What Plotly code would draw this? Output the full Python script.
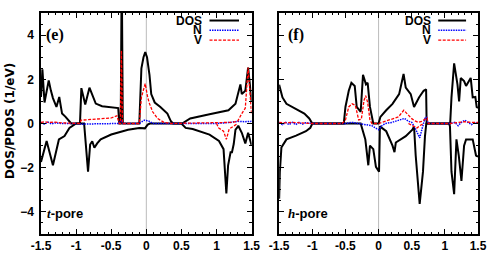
import plotly.graph_objects as go

# ---- panel (e): t-pore ----
e_dos_up_x = [-1.5, -1.48, -1.45, -1.42, -1.39, -1.36, -1.33, -1.28, -1.24, -1.2, -1.15, -1.07,
              -0.945, -0.925, -0.87, -0.81, -0.72, -0.63, -0.5, -0.4, -0.385, -0.365, -0.35, -0.335,
              -0.1, -0.07, -0.04, -0.015, 0.01, 0.045, 0.07, 0.12, 0.2, 0.3, 0.35, 0.38,
              0.51, 0.625, 0.9, 1.17, 1.27, 1.31, 1.34, 1.36, 1.41, 1.45, 1.49, 1.5]
e_dos_up_y = [1.2, 2.45, 0.95, 1.4, 1.95, 1.5, 1.15, 0.75, 1.2, 0.45, 0.3, 0.0,
              0.0, 1.6, 0.86, 1.62, 0.9, 0.78, 0.74, 0.7, 0.0, 0.0, 7.0, 0.0,
              0.0, 2.5, 3.0, 3.23, 3.0, 2.2, 1.33, 0.95, 0.75, 0.45, 0.1, 0.0,
              0.0, 0.23, 0.42, 0.6, 0.89, 1.33, 1.77, 1.33, 1.48, 2.53, 1.48, 1.0]

e_dos_dn_x = [-1.5, -1.42, -1.33, -1.245, -1.165, -1.095, -1.0, -0.886, -0.83, -0.8, -0.77,
              -0.74, -0.7, -0.65, -0.5, -0.26, -0.1, -0.02, 0.02, 0.05, 0.5, 0.56, 0.66, 0.9,
              1.035, 1.1, 1.14, 1.165, 1.2, 1.22, 1.245, 1.27, 1.29, 1.31, 1.36, 1.41, 1.45,
              1.49, 1.5]
e_dos_dn_y = [-1.74, -0.79, -1.89, -0.72, -0.57, -0.2, 0.0, 0.0, -2.18, -0.95, -0.8,
              -1.1, -0.9, -0.72, -0.5, -0.28, -0.2, -0.22, -0.05, 0.0, 0.0, -0.2, -0.25, -0.5,
              -0.79, -1.16, -3.17, -1.89, -1.3, -1.3, -0.93, -0.28, -0.2, -0.1, -0.42, -0.9, -0.42,
              -0.86, -1.0]

e_n_x = [-1.5, -1.45, -1.4, -1.35, -1.3, -1.2, -1.0, -0.9, -0.8, -0.4, -0.36, -0.33, -0.3,
         -0.1, -0.03, 0.03, 0.1, 0.5, 1.0, 1.2, 1.3, 1.4, 1.5]
e_n_y = [0.05, -0.03, 0.06, -0.02, 0.03, 0.0, 0.0, -0.03, -0.02, 0.0, 0.12, 0.0, 0.0,
         0.0, 0.15, 0.12, 0.0, 0.0, 0.0, 0.05, 0.1, 0.08, 0.1]

e_v_up_x = [-1.5, -1.45, -1.4, -1.3, -1.2, -1.1, -1.0, -0.95, -0.93, -0.8, -0.65, -0.5, -0.42,
            -0.385, -0.37, -0.355, -0.34, -0.1, -0.07, -0.04, -0.016, 0.02, 0.045, 0.09, 0.16,
            0.25, 0.35, 1.2, 1.3, 1.36, 1.41, 1.45, 1.48, 1.5]
e_v_up_y = [0.05, 0.08, 0.05, 0.06, 0.03, 0.02, 0.0, 0.0, 0.15, 0.18, 0.22, 0.25, 0.35,
            0.0, 0.0, 3.3, 0.0, 0.0, 1.18, 1.55, 1.8, 1.18, 0.9, 0.53, 0.23,
            0.05, 0.0, 0.05, 0.1, 0.45, 0.7, 2.53, 1.04, 0.4]
e_v_dn_x = [1.0, 1.03, 1.1, 1.14, 1.18, 1.245, 1.3]
e_v_dn_y = [0.0, -0.2, -0.35, -0.72, -0.25, -0.1, 0.0]

# ---- panel (f): h-pore ----
f_dos_up_x = [-1.5, -1.45, -1.39, -1.245, -1.12, -1.046, -1.0, -0.525, -0.5, -0.45, -0.41,
              -0.36, -0.33, -0.27, -0.235, -0.19, -0.165, -0.13, -0.08, 0.0, 0.027, 0.115,
              0.21, 0.31, 0.377, 0.41, 0.485, 0.535, 0.61, 0.68, 0.717, 0.725, 1.08, 1.1,
              1.14, 1.19, 1.215, 1.24, 1.29, 1.32, 1.39, 1.42, 1.46, 1.48, 1.5]
f_dos_up_y = [1.75, 1.18, 0.89, 0.67, 0.45, 0.23, 0.0, 0.0, 0.75, 1.48, 1.84,
              1.7, 0.75, 0.53, 2.2, 1.77, 1.84, 0.75, 0.0, 0.0, 0.3, 0.6,
              0.89, 1.33, 2.24, 1.62, 1.33, 0.75, 1.18, 1.48, 1.55, 0.0, 0.0, 1.18,
              2.72, 1.77, 1.0, 2.06, 1.92, 1.7, 2.06, 1.18, 1.2, 0.75, 0.7]

f_dos_dn_x = [-1.5, -1.49, -1.466, -1.39, -1.245, -1.096, -1.03, -1.0, -0.27, -0.25, -0.2,
              -0.155, -0.13, -0.08, -0.04, 0.007, 0.02, 0.115, 0.21, 0.24, 0.26, 0.41, 0.51,
              0.535, 0.56, 0.62, 0.67, 0.7, 0.72, 1.065, 1.077, 1.1, 1.14, 1.175, 1.21, 1.25,
              1.29, 1.32, 1.42, 1.47, 1.5]
f_dos_dn_y = [-3.4, -2.2, -1.08, -0.72, -0.55, -0.35, -0.2, 0.0, 0.0, -0.2, -0.72,
              -1.89, -1.0, -1.16, -1.96, -2.18, -0.13, -0.35, -1.0, -1.3, -0.86, -0.57, -0.28,
              -0.13, -1.45, -3.64, -2.18, -0.57, 0.0, 0.0, -0.13, -2.18, -3.2, -0.72, -1.45, -2.6,
              -1.0, -0.72, -0.72, -1.45, -1.5]

f_n_x = [-1.5, -1.45, -1.4, -1.35, -1.3, -1.25, -1.2, -1.15, -1.1, -1.0, -0.5, -0.4, -0.3,
         -0.1, -0.05, 0.0, 0.05, 0.1, 0.2, 0.3, 0.39, 0.45, 0.5, 0.55, 0.62, 0.66, 0.7, 0.72,
         0.75, 1.08, 1.15, 1.2, 1.25, 1.3, 1.35, 1.4, 1.45, 1.5]
f_n_y = [0.05, -0.05, 0.05, -0.05, 0.05, -0.05, 0.05, -0.03, 0.03, 0.0, 0.0, 0.05, 0.0,
         -0.1, -0.2, -0.28, -0.1, 0.0, 0.05, 0.15, 0.23, 0.1, 0.05, -0.2, -0.65, -0.2, 0.23, 0.3,
         0.0, 0.0, 0.05, -0.1, 0.05, 0.15, 0.05, -0.05, 0.05, 0.0]

f_v_up_x = [-1.5, -1.4, -1.3, -1.2, -1.1, -1.0, -0.55, -0.5, -0.45, -0.4, -0.35, -0.3, -0.26,
            -0.22, -0.195, -0.165, -0.13, -0.1, 0.0, 0.05, 0.1, 0.2, 0.3, 0.38, 0.45, 0.5,
            0.55, 0.6, 0.65, 0.7, 0.73, 0.75, 1.08, 1.2, 1.3, 1.4, 1.5]
f_v_up_y = [0.05, 0.03, 0.05, 0.03, 0.03, 0.0, 0.0, 0.16, 0.75, 0.89, 0.82, 0.16, 0.2,
            1.04, 1.26, 0.96, 0.16, 0.0, 0.0, 0.05, 0.1, 0.2, 0.3, 0.6, 0.35, 0.22,
            0.12, 0.05, 0.1, 0.2, 0.25, 0.0, 0.0, 0.05, 0.08, 0.05, 0.05]
f_v_dn_x = [0.45, 0.52, 0.58, 0.62, 0.68]
f_v_dn_y = [0.0, -0.12, -0.2, -0.1, 0.0]

x_ticks = [-1.5, -1, -0.5, 0, 0.5, 1, 1.5]
x_ticklabels = ["-1.5", "-1", "-0.5", "0", "0.5", "1", "1.5"]
y_ticks = [-4, -2, 0, 2, 4]
legend_names = ["DOS", "N", "V"]

BLACK = "#000000"
BLUE = "#0000ff"
RED = "#ff0000"
SANS = "Liberation Sans"
SERIF = "Liberation Serif"
N_LINE = dict(color=BLUE, width=1.5, dash="1.5px,1px")
V_LINE = dict(color=RED, width=1.3, dash="3px,1.5px")

fig = go.Figure()

panels = [
    ("x", "y", e_dos_up_x, e_dos_up_y, e_dos_dn_x, e_dos_dn_y, e_n_x, e_n_y,
     e_v_up_x, e_v_up_y, e_v_dn_x, e_v_dn_y),
    ("x2", "y2", f_dos_up_x, f_dos_up_y, f_dos_dn_x, f_dos_dn_y, f_n_x, f_n_y,
     f_v_up_x, f_v_up_y, f_v_dn_x, f_v_dn_y),
]

for xa, ya, dux, duy, ddx, ddy, nx, ny, vux, vuy, vdx, vdy in panels:
    fig.add_trace(go.Scatter(x=dux, y=duy, mode="lines", xaxis=xa, yaxis=ya,
                             line=dict(color=BLACK, width=2)))
    fig.add_trace(go.Scatter(x=ddx, y=ddy, mode="lines", xaxis=xa, yaxis=ya,
                             line=dict(color=BLACK, width=2)))
    fig.add_trace(go.Scatter(x=nx, y=ny, mode="lines", xaxis=xa, yaxis=ya, line=N_LINE))
    fig.add_trace(go.Scatter(x=vux, y=vuy, mode="lines", xaxis=xa, yaxis=ya, line=V_LINE))
    fig.add_trace(go.Scatter(x=vdx, y=vdy, mode="lines", xaxis=xa, yaxis=ya, line=V_LINE))

axis_common = dict(
    showline=True, linecolor=BLACK, linewidth=1.5, mirror="allticks",
    ticks="inside", ticklen=5, tickwidth=1, tickcolor=BLACK,
    showgrid=False, zeroline=False,
    tickfont=dict(family=SANS, size=12, color=BLACK, weight="bold"),
)
x_minor = dict(dtick=0.1, ticks="inside", ticklen=2.5, tickcolor=BLACK)
y_minor = dict(dtick=0.5, ticks="inside", ticklen=2.5, tickcolor=BLACK)

fig.update_layout(
    width=498, height=264,
    margin=dict(l=41, r=11, t=13, b=23),
    paper_bgcolor="white", plot_bgcolor="white",
    showlegend=False,
    xaxis=dict(domain=[0, 0.482], range=[-1.5, 1.5], tickvals=x_ticks,
               ticktext=x_ticklabels, minor=x_minor, **axis_common),
    xaxis2=dict(domain=[0.545, 1], range=[-1.5, 1.5], tickvals=x_ticks,
                ticktext=x_ticklabels, anchor="y2", minor=x_minor, **axis_common),
    yaxis=dict(range=[-5, 5], tickvals=y_ticks, ticklabelstandoff=3,
               minor=y_minor, **axis_common),
    yaxis2=dict(range=[-5, 5], tickvals=y_ticks, showticklabels=False, anchor="x2",
                minor=y_minor, **axis_common),
)

# zero-energy reference lines
for xa, ya in [("x", "y"), ("x2", "y2")]:
    fig.add_shape(type="line", xref=xa, yref=f"{ya} domain", x0=0, x1=0, y0=0, y1=1,
                  line=dict(color="#bbbbbb", width=1), layer="below")

# legend drawn gnuplot-style: label then sample
legend_styles = [dict(color=BLACK, width=2), N_LINE, V_LINE]
legend_y = [0.966, 0.922, 0.877]
for xa, ya in [("x", "y"), ("x2", "y2")]:
    for name, style, yy in zip(legend_names, legend_styles, legend_y):
        fig.add_annotation(text=name, xref=f"{xa} domain", yref=f"{ya} domain",
                           x=0.775, y=yy, xanchor="right", yanchor="middle",
                           showarrow=False,
                           font=dict(family=SANS, size=12, color=BLACK, weight="bold"))
        fig.add_shape(type="line", xref=f"{xa} domain", yref=f"{ya} domain",
                      x0=0.80, x1=0.94, y0=yy, y1=yy, line=style)

# panel labels
fig.add_annotation(text="(e)", xref="x domain", yref="y domain", x=0.012, y=0.9,
                   xanchor="left", yanchor="middle", showarrow=False,
                   font=dict(family=SERIF, size=16, color=BLACK, weight="bold"))
fig.add_annotation(text="(f)", xref="x2 domain", yref="y2 domain", x=0.035, y=0.9,
                   xanchor="left", yanchor="middle", showarrow=False,
                   font=dict(family=SERIF, size=16, color=BLACK, weight="bold"))
fig.add_annotation(text=f"<span style='font-family:{SERIF}'><i>t</i></span>-pore",
                   xref="x domain", yref="y domain", x=0.02, y=0.092,
                   xanchor="left", yanchor="middle", showarrow=False,
                   font=dict(family=SANS, size=13, color=BLACK, weight="bold"))
fig.add_annotation(text=f"<span style='font-family:{SERIF}'><i>h</i></span>-pore",
                   xref="x2 domain", yref="y2 domain", x=0.035, y=0.092,
                   xanchor="left", yanchor="middle", showarrow=False,
                   font=dict(family=SANS, size=13, color=BLACK, weight="bold"))

# y axis title
fig.add_annotation(text="DOS/PDOS (1/eV)", xref="paper", yref="paper",
                   x=-0.0695, y=0.51, xanchor="center", yanchor="middle",
                   textangle=-90, showarrow=False,
                   font=dict(family="DejaVu Sans", size=12, color=BLACK, weight="bold"))

# drop the browser's default body margin so the figure sits at the page origin
fig.write_html("out.html", config={"displayModeBar": False},
               post_script="document.body.style.margin='0px';")
